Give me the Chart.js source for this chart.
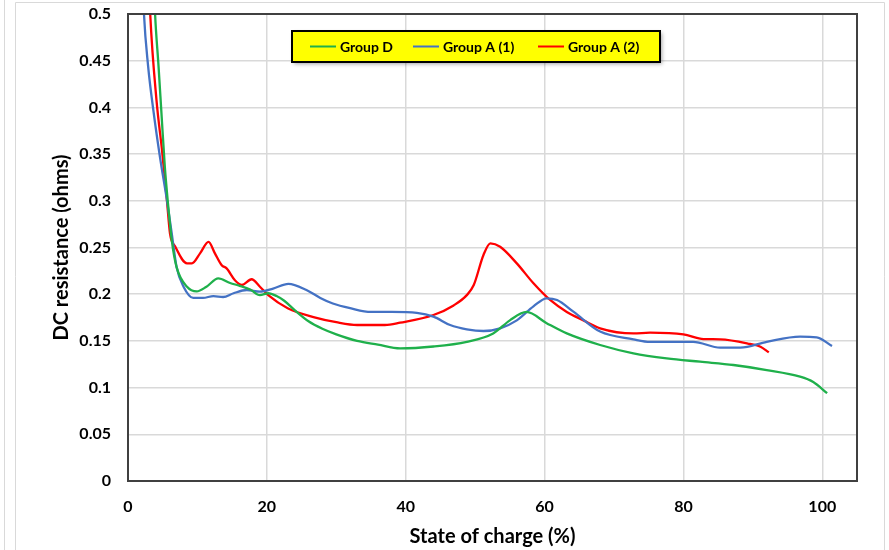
<!DOCTYPE html>
<html>
<head>
<meta charset="utf-8">
<script src="https://cdn.jsdelivr.net/npm/chart.js@4.4.1/dist/chart.umd.min.js"></script>
<style>
  html, body { margin: 0; padding: 0; background: #fff; }
  #wrap { width: 889px; height: 550px; position: relative; }
</style>
</head>
<body>
<div id="wrap"><canvas id="resChart"></canvas></div>
<script>
// data (state of charge %, DC resistance ohms)
const groupD_x = [3.6, 3.9, 4.4, 4.85, 5.3, 5.8, 6.3, 7.0, 8.5, 9.9, 11.3, 13.0, 14.7, 16.1, 17.6, 19.0, 20.2, 21.4, 22.5, 24, 26, 28, 30, 33, 36, 39.2, 44, 48.8, 52.6, 55, 57.4, 60.3, 63.2, 68, 72.8, 77.6, 82.4, 87.2, 92, 96.8, 98.7, 100.7];
const groupD_y = [0.56, 0.5, 0.444, 0.39, 0.337, 0.294, 0.258, 0.229, 0.208, 0.203, 0.208, 0.217, 0.212, 0.209, 0.205, 0.199, 0.201, 0.198, 0.193, 0.183, 0.171, 0.163, 0.157, 0.150, 0.146, 0.142, 0.144, 0.149, 0.158, 0.172, 0.181, 0.169, 0.158, 0.1456, 0.1367, 0.1313, 0.1277, 0.1242, 0.1188, 0.1117, 0.106, 0.094];

const groupA1_x = [2.0, 2.3, 2.9, 3.65, 4.6, 5.6, 6.3, 7.0, 8.0, 9.4, 10.8, 12.3, 13.7, 15.2, 17.1, 19.0, 20.9, 23.1, 25.7, 27.7, 29.5, 32, 35, 38, 41.6, 44, 46.4, 48.8, 51.2, 53.6, 56, 58.4, 60.3, 61.8, 64.2, 68, 72.8, 75.2, 81.4, 85.3, 88.2, 92, 96.8, 99.2, 101.4];
const groupA1_y = [0.56, 0.5, 0.444, 0.397, 0.347, 0.301, 0.265, 0.229, 0.208, 0.196, 0.196, 0.198, 0.197, 0.201, 0.2045, 0.2027, 0.206, 0.211, 0.2045, 0.196, 0.190, 0.185, 0.181, 0.181, 0.180, 0.176, 0.167, 0.1624, 0.1606, 0.1635, 0.172, 0.187, 0.1956, 0.1938, 0.181, 0.160, 0.1517, 0.149, 0.149, 0.1428, 0.1428, 0.149, 0.1545, 0.1538, 0.1445];

const groupA2_x = [2.9, 3.2, 4.1, 4.9, 5.6, 6.05, 6.8, 8.5, 9.2, 10.4, 11.6, 12.5, 13.5, 14.2, 15.4, 16.4, 17.8, 19.0, 20.2, 23, 27, 30, 33, 37, 39.2, 44, 46.9, 48.8, 49.8, 51.2, 52.2, 53.6, 56, 58.4, 60.8, 63.2, 65.6, 68, 72.8, 75.2, 80, 82.9, 85.3, 89.6, 91.1, 92.3];
const groupA2_y = [0.56, 0.5, 0.408, 0.354, 0.301, 0.265, 0.251, 0.233, 0.233, 0.244, 0.256, 0.244, 0.231, 0.2277, 0.215, 0.210, 0.216, 0.208, 0.199, 0.185, 0.175, 0.170, 0.167, 0.167, 0.1695, 0.1777, 0.188, 0.199, 0.2098, 0.242, 0.2544, 0.2508, 0.233, 0.2117, 0.1938, 0.181, 0.172, 0.1635, 0.158, 0.1588, 0.157, 0.152, 0.1517, 0.1467, 0.1438, 0.1378];

const seriesNames = ['Group D', 'Group A (1)', 'Group A (2)'];
const seriesColors = ['#1fb04b', '#4472c4', '#ff0000'];
const xTicks = [0, 20, 40, 60, 80, 100];

function toPoints(xs, ys) {
  return xs.map((x, i) => ({ x: x, y: ys[i] }));
}

const FONT = 'Lato, "Open Sans", sans-serif';

// frame, plot border and yellow legend box
const decorPlugin = {
  id: 'decor',
  beforeDraw(chart) {
    const ctx = chart.ctx;
    ctx.save();
    ctx.strokeStyle = '#d9d9d9';
    ctx.lineWidth = 1;
    ctx.beginPath();
    ctx.moveTo(4.5, 0); ctx.lineTo(4.5, 550);
    ctx.moveTo(15.5, 550); ctx.lineTo(15.5, 2.5); ctx.lineTo(884.5, 2.5); ctx.lineTo(884.5, 550);
    ctx.stroke();
    ctx.restore();
  },
  afterDraw(chart) {
    const ctx = chart.ctx;
    const a = chart.chartArea;
    ctx.save();
    ctx.strokeStyle = '#404040';
    ctx.lineWidth = 2;
    ctx.strokeRect(a.left, a.top, a.right - a.left, a.bottom - a.top);

    // legend box
    const bx = 292, by = 31, bw = 368, bh = 31;
    ctx.shadowColor = 'rgba(0,0,0,0.35)';
    ctx.shadowBlur = 4;
    ctx.shadowOffsetX = 2;
    ctx.shadowOffsetY = 2;
    ctx.fillStyle = '#ffff00';
    ctx.fillRect(bx, by, bw, bh);
    ctx.shadowColor = 'transparent';
    ctx.strokeStyle = '#000';
    ctx.lineWidth = 2;
    ctx.strokeRect(bx, by, bw, bh);

    const sampleX = [310, 413, 538];
    ctx.font = 'bold 14px ' + FONT;
    ctx.textBaseline = 'middle';
    ctx.fillStyle = '#000';
    seriesNames.forEach((name, i) => {
      ctx.strokeStyle = seriesColors[i];
      ctx.lineWidth = 2;
      ctx.beginPath();
      ctx.moveTo(sampleX[i], by + bh / 2);
      ctx.lineTo(sampleX[i] + 26, by + bh / 2);
      ctx.stroke();
      ctx.fillText(name, sampleX[i] + 30, by + bh / 2 + 1);
    });
    ctx.restore();
  }
};

const ctxRes = document.getElementById('resChart').getContext('2d');
const resChart = new Chart(ctxRes, {
  type: 'scatter',
  data: {
    datasets: [
      { label: seriesNames[0], data: toPoints(groupD_x, groupD_y), borderColor: seriesColors[0] },
      { label: seriesNames[1], data: toPoints(groupA1_x, groupA1_y), borderColor: seriesColors[1] },
      { label: seriesNames[2], data: toPoints(groupA2_x, groupA2_y), borderColor: seriesColors[2] }
    ].map(ds => Object.assign(ds, {
      showLine: true,
      borderWidth: 2.3,
      pointRadius: 0,
      fill: false,
      cubicInterpolationMode: 'monotone'
    }))
  },
  options: {
    responsive: true,
    maintainAspectRatio: false,
    animation: false,
    layout: { padding: { top: 14, right: 32, left: 0, bottom: 0 } },
    plugins: {
      legend: { display: false },
      tooltip: { enabled: false }
    },
    scales: {
      x: {
        type: 'linear',
        min: 0,
        max: 105,
        afterBuildTicks(scale) {
          scale.ticks = xTicks.map(v => ({ value: v }));
        },
        afterFit(scale) {
          scale.height = 69;
          scale.paddingLeft = 0;
          scale.paddingRight = 0;
        },
        grid: { color: '#d9d9d9', lineWidth: 1.5, drawTicks: false },
        border: { display: false },
        ticks: {
          padding: 16,
          color: '#000',
          font: { family: FONT, size: 16, weight: 'bold' }
        },
        title: {
          display: true,
          text: 'State of charge (%)',
          color: '#000',
          padding: { top: 0, bottom: 1 },
          font: { family: FONT, size: 20, weight: 'bold' }
        }
      },
      y: {
        min: 0,
        max: 0.5,
        afterFit(scale) {
          scale.width = 128;
          scale.paddingTop = 0;
          scale.paddingBottom = 0;
        },
        grid: { color: '#d9d9d9', lineWidth: 1.5, drawTicks: false },
        border: { display: false },
        ticks: {
          stepSize: 0.05,
          padding: 17,
          color: '#000',
          font: { family: FONT, size: 16, weight: 'bold' },
          callback: v => Math.round(v * 100) / 100
        },
        title: {
          display: true,
          text: 'DC resistance (ohms)',
          color: '#000',
          padding: { top: 50, bottom: 0 },
          font: { family: FONT, size: 20, weight: 'bold' }
        }
      }
    }
  },
  plugins: [decorPlugin]
});
</script>
</body>
</html>
